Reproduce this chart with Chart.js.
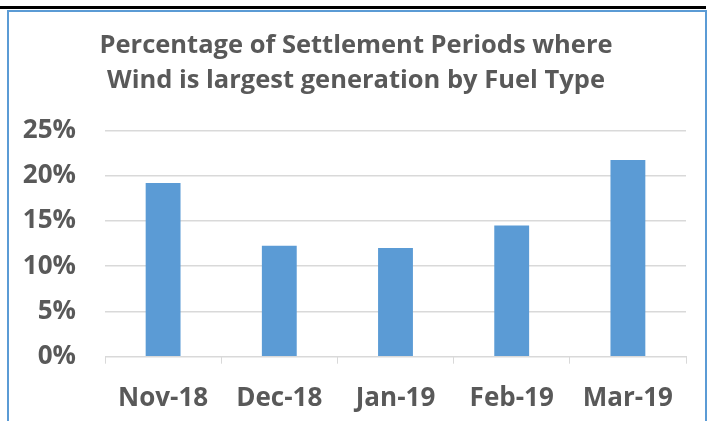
<!DOCTYPE html>
<html>
<head>
<meta charset="utf-8">
<script src="https://cdn.jsdelivr.net/npm/chart.js@4"></script>
<style>
  html, body { margin: 0; padding: 0; background: #ffffff; overflow: hidden; }
  #wrap { position: relative; width: 707px; height: 421px; }
  #topline { position: absolute; left: 0; top: 6px; width: 706px; height: 3px; background: #000; }
  #frame { position: absolute; left: 7px; top: 10px; width: 696px; height: 420px;
           border-left: 2px solid #5b9bd5; border-top: 2px solid #5b9bd5; border-right: 2px solid #5b9bd5; }
  canvas { position: absolute; left: 0; top: 0; }
</style>
</head>
<body>
<div id="wrap">
  <div id="topline"></div>
  <div id="frame"></div>
  <canvas id="c" width="707" height="421"></canvas>
</div>
<script>
const categories = ["Nov-18", "Dec-18", "Jan-19", "Feb-19", "Mar-19"];
const windShare = [19.2, 12.25, 12.0, 14.5, 21.75];
const titleLines = ["Percentage of Settlement Periods where", "Wind is largest generation by Fuel Type"];
const yTicks = [0, 5, 10, 15, 20, 25];

const textColor = "#595959";
const gridColor = "#d9d9d9";
const fontFamily = "'Open Sans', 'Lato', sans-serif";

new Chart(document.getElementById("c"), {
  type: "bar",
  data: {
    labels: categories,
    datasets: [{
      data: windShare,
      backgroundColor: "#5b9bd5",
      borderWidth: 0,
      barPercentage: 0.3,
      categoryPercentage: 1.0
    }]
  },
  options: {
    responsive: false,
    animation: false,
    layout: { padding: { left: 5, right: 0, top: 0, bottom: 0 } },
    plugins: {
      legend: { display: false },
      tooltip: { enabled: false },
      title: {
        display: true,
        text: titleLines,
        color: textColor,
        font: { family: fontFamily, size: 25.5, weight: "bold", lineHeight: 35 / 25.5 },
        padding: { top: 28, bottom: 32.5 }
      }
    },
    scales: {
      x: {
        grid: { display: true, offset: true, drawOnChartArea: false, drawTicks: true, tickLength: 7, color: gridColor },
        border: { display: true, color: gridColor, width: 1 },
        ticks: { color: textColor, font: { family: fontFamily, size: 26, weight: "bold" }, padding: 19, maxRotation: 0 },
        afterFit: (s) => { s.height = 64.3; }
      },
      y: {
        min: 0,
        max: 25,
        afterBuildTicks: (s) => { s.ticks = yTicks.map(v => ({ value: v })); },
        grid: { display: true, drawTicks: false, color: gridColor, lineWidth: 1.5 },
        border: { display: false },
        ticks: { color: textColor, font: { family: fontFamily, size: 26, weight: "bold" }, padding: 29, callback: (v) => v + "%" },
        afterFit: (s) => { s.width = 100; }
      },
      ySpacer: {
        type: "linear",
        position: "right",
        display: true,
        min: 0,
        max: 25,
        grid: { display: false, drawTicks: false },
        border: { display: false },
        ticks: { display: false },
        afterFit: (s) => { s.width = 21; }
      }
    }
  }
});
</script>
</body>
</html>
